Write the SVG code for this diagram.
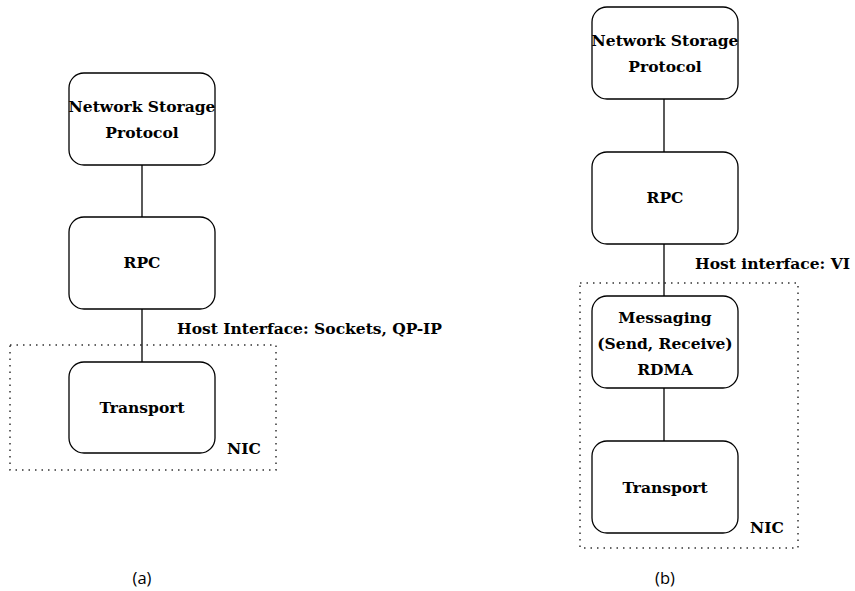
<svg xmlns="http://www.w3.org/2000/svg" width="855" height="591" viewBox="0 0 855 591">
  <style>
    .box { fill: #ffffff; stroke: #000000; stroke-width: 1.3; }
    .lbl { font-family: "DejaVu Serif", "Liberation Serif", serif; font-weight: bold; font-size: 15.5px; fill: #000000; text-anchor: middle; }
    .note { font-family: "DejaVu Serif", "Liberation Serif", serif; font-weight: bold; font-size: 15.5px; fill: #000000; }
    .cap { font-family: "Open Sans", "Noto Sans", sans-serif; font-size: 16.5px; fill: #000000; text-anchor: middle; }
    .nic { fill: none; stroke: #333333; stroke-width: 1.5; stroke-dasharray: 1.5 5; }
    .edge { stroke: #000000; stroke-width: 1.3; fill: none; }
  </style>
  <rect width="855" height="591" fill="#ffffff"/>

  <!-- NIC boundaries -->
  <g id="nic-a">
    <rect class="nic" x="10" y="345" width="266" height="125"/>
    <text class="note" x="227" y="454">NIC</text>
  </g>
  <g id="nic-b">
    <rect class="nic" x="580" y="283" width="218" height="265"/>
    <text class="note" x="750" y="533">NIC</text>
  </g>

  <!-- connectors -->
  <g id="edges">
    <line class="edge" x1="142" y1="165" x2="142" y2="217"/>
    <line class="edge" x1="142" y1="309" x2="142" y2="362"/>
    <line class="edge" x1="664" y1="99" x2="664" y2="152"/>
    <line class="edge" x1="664" y1="244" x2="664" y2="296"/>
    <line class="edge" x1="664" y1="388" x2="664" y2="441"/>
  </g>

  <!-- stack (a) -->
  <g id="a-nsp">
    <rect class="box" x="69" y="73" width="146" height="92" rx="15"/>
    <text class="lbl" x="142" y="112">Network Storage</text>
    <text class="lbl" x="142" y="138">Protocol</text>
  </g>
  <g id="a-rpc">
    <rect class="box" x="69" y="217" width="146" height="92" rx="15"/>
    <text class="lbl" x="142" y="268">RPC</text>
  </g>
  <g id="a-transport">
    <rect class="box" x="69" y="362" width="146" height="91" rx="15"/>
    <text class="lbl" x="142" y="413">Transport</text>
  </g>
  <text class="note" x="177" y="334">Host Interface: Sockets, QP-IP</text>

  <!-- stack (b) -->
  <g id="b-nsp">
    <rect class="box" x="592" y="7" width="146" height="92" rx="15"/>
    <text class="lbl" x="665" y="46">Network Storage</text>
    <text class="lbl" x="665" y="72">Protocol</text>
  </g>
  <g id="b-rpc">
    <rect class="box" x="592" y="152" width="146" height="92" rx="15"/>
    <text class="lbl" x="665" y="203">RPC</text>
  </g>
  <g id="b-messaging">
    <rect class="box" x="592" y="296" width="146" height="92" rx="15"/>
    <text class="lbl" x="665" y="323">Messaging</text>
    <text class="lbl" x="665" y="349">(Send, Receive)</text>
    <text class="lbl" x="665" y="375">RDMA</text>
  </g>
  <g id="b-transport">
    <rect class="box" x="592" y="441" width="146" height="92" rx="15"/>
    <text class="lbl" x="665" y="493">Transport</text>
  </g>
  <text class="note" x="695" y="269">Host interface: VI</text>

  <!-- captions -->
  <text class="cap" x="142" y="584">(a)</text>
  <text class="cap" x="665" y="584">(b)</text>
</svg>
